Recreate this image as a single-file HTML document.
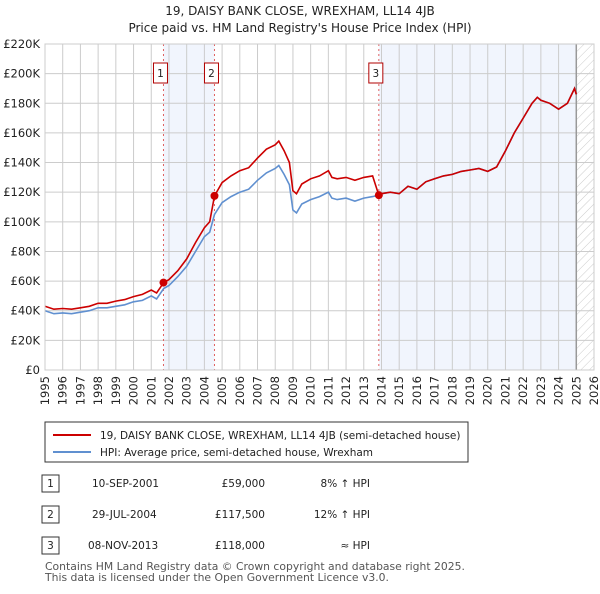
<!DOCTYPE html>
<html><head><meta charset="utf-8"><style>
body{margin:0;background:#fff;font-family:"DejaVu Sans","Liberation Sans",sans-serif;}
#c{position:relative;width:600px;height:590px;}
svg text{font-family:"DejaVu Sans","Liberation Sans",sans-serif;}
</style></head><body><div id="c">
<svg id="s" width="600" height="590" xmlns="http://www.w3.org/2000/svg">
<defs><pattern id="h" width="6" height="6" patternUnits="userSpaceOnUse" patternTransform="rotate(45)"><line x1="0" y1="0" x2="0" y2="6" stroke="#ccc" stroke-width="1"/></pattern></defs>
<text x="300" y="15" text-anchor="middle" font-size="12" fill="#222">19, DAISY BANK CLOSE, WREXHAM, LL14 4JB</text>
<text x="300" y="32" text-anchor="middle" font-size="12" fill="#222">Price paid vs. HM Land Registry's House Price Index (HPI)</text>
<g id="g"></g>
<rect x="45" y="422" width="423" height="40" fill="#fff" stroke="#333"/>
<line x1="53" y1="435" x2="91" y2="435" stroke="#cc0000" stroke-width="2"/>
<text x="100" y="439" font-size="10.5" fill="#222">19, DAISY BANK CLOSE, WREXHAM, LL14 4JB (semi-detached house)</text>
<line x1="53" y1="452" x2="91" y2="452" stroke="#6090d0" stroke-width="2"/>
<text x="100" y="456" font-size="10.5" fill="#222">HPI: Average price, semi-detached house, Wrexham</text>
<g font-size="10.5" fill="#222">
<rect x="42" y="475" width="17" height="17" fill="#fff" stroke="#333"/><text x="50.5" y="487" text-anchor="middle">1</text>
<text x="92" y="487">10-SEP-2001</text><text x="265" y="487" text-anchor="end">£59,000</text><text x="370" y="487" text-anchor="end">8% ↑ HPI</text>
<rect x="42" y="506" width="17" height="17" fill="#fff" stroke="#333"/><text x="50.5" y="518" text-anchor="middle">2</text>
<text x="92" y="518">29-JUL-2004</text><text x="265" y="518" text-anchor="end">£117,500</text><text x="370" y="518" text-anchor="end">12% ↑ HPI</text>
<rect x="42" y="537" width="17" height="17" fill="#fff" stroke="#333"/><text x="50.5" y="549" text-anchor="middle">3</text>
<text x="88" y="549">08-NOV-2013</text><text x="265" y="549" text-anchor="end">£118,000</text><text x="370" y="549" text-anchor="end">≈ HPI</text>
</g>
<text x="45" y="570" font-size="10.8" fill="#555">Contains HM Land Registry data © Crown copyright and database right 2025.</text>
<text x="45" y="581" font-size="10.8" fill="#555">This data is licensed under the Open Government Licence v3.0.</text>
</svg></div>
<script>
const years=[1995,1995.5,1996,1996.5,1997,1997.5,1998,1998.5,1999,1999.5,2000,2000.5,2001,2001.3,2001.7,2002,2002.5,2003,2003.5,2004,2004.3,2004.57,2005,2005.5,2006,2006.5,2007,2007.5,2008,2008.2,2008.5,2008.8,2009,2009.2,2009.5,2010,2010.5,2011,2011.2,2011.5,2012,2012.5,2013,2013.5,2013.85,2014,2014.5,2015,2015.5,2016,2016.5,2017,2017.5,2018,2018.5,2019,2019.5,2020,2020.5,2021,2021.5,2022,2022.5,2022.8,2023,2023.5,2024,2024.5,2024.9,2025];
const hpi=[40,38,38.5,38,39,40,42,42,43,44,46,47,50,48,55,57,63,70,80,90,93,105,113,117,120,122,128,133,136,138,132,125,108,106,112,115,117,120,116,115,116,114,116,117,118,119,120,119,124,122,127,129,131,132,134,135,136,134,137,148,160,170,180,184,182,180,176,180,190,186];
const price=[43,41,41.5,41,42,43,45,45,46.5,47.5,49.5,51,54,52,59,61,67,75,86,96,100,117.5,126.5,131,134.5,136.5,143,149,152,154.5,148,140,121,119,125.5,129,131,134.5,130,129,130,128,130,131,118,119,120,119,124,122,127,129,131,132,134,135,136,134,137,148,160,170,180,184,182,180,176,180,190,186];
const saleYears=[2001.69,2004.57,2013.85];
const saleValues=[59,117.5,118];
const saleLabels=["1","2","3"];
const yTicks=[0,20,40,60,80,100,120,140,160,180,200,220];
const xTicks=[1995,1996,1997,1998,1999,2000,2001,2002,2003,2004,2005,2006,2007,2008,2009,2010,2011,2012,2013,2014,2015,2016,2017,2018,2019,2020,2021,2022,2023,2024,2025,2026];
const L=45,R=594,T=44,B=370;
const X=y=>L+(y-1995)/(2026-1995)*(R-L);
const Y=v=>B-v/220*(B-T);
const g=document.getElementById('g');const NS='http://www.w3.org/2000/svg';
function mk(t,a,p){const e=document.createElementNS(NS,t);for(const k in a)e.setAttribute(k,a[k]);(p||g).appendChild(e);return e;}
let e;
e=mk('rect',{x:X(saleYears[0]),y:T,width:X(saleYears[1])-X(saleYears[0]),height:B-T,fill:'#eef3fc',opacity:0.8});


e=mk('rect',{x:X(saleYears[2]),y:T,width:X(2025)-X(saleYears[2]),height:B-T,fill:'#eef3fc',opacity:0.8});


e=mk('rect',{x:X(2025),y:T,width:R-X(2025),height:B-T,fill:'url(#h)'});


yTicks.forEach(v=>{
 e=mk('line',{x1:L,x2:R,y1:Y(v),y2:Y(v),stroke:'#ccc'});
 
 
 e=mk('text',{x:L-5,y:Y(v)+4,'text-anchor':'end','font-size':11.5,fill:'#222'});e.textContent=v?'£'+v+'K':'£0';
 
 
});
xTicks.forEach(v=>{
 e=mk('line',{x1:X(v),x2:X(v),y1:T,y2:B,stroke:'#ccc'});
 
 
 e=mk('text',{x:0,y:0,'text-anchor':'end','font-size':11.5,fill:'#222',transform:`translate(${X(v)+4},${B+6}) rotate(-90)`});e.textContent=v;
 
 
});
e=mk('line',{x1:X(2025),x2:X(2025),y1:T,y2:B,stroke:'#999','stroke-width':1.5});


saleYears.forEach((s,i)=>{
 e=mk('line',{x1:X(s),x2:X(s),y1:T,y2:B,stroke:'#e06060','stroke-dasharray':'2,3'});
 
 
 e=mk('rect',{x:X(s)-10,y:63,width:14,height:20,fill:'#fff',stroke:'#b00000'});
 
 
 e=mk('text',{x:X(s)-3,y:77,'text-anchor':'middle','font-size':10.5,fill:'#222'});e.textContent=saleLabels[i];
 
 
});
const pts=a=>a.map((v,i)=>X(years[i]).toFixed(1)+','+Y(v).toFixed(1)).join(' ');
e=mk('polyline',{points:pts(hpi),fill:'none',stroke:'#6090d0','stroke-width':1.6});


e=mk('polyline',{points:pts(price),fill:'none',stroke:'#cc0000','stroke-width':1.6});


saleYears.forEach((s,i)=>{
 e=mk('circle',{cx:X(s),cy:Y(saleValues[i]),r:4,fill:'#cc0000'});
 
 
});
e=mk('rect',{x:L,y:T,width:R-L,height:B-T,fill:'none',stroke:'#ccc'});


</script></body></html>
